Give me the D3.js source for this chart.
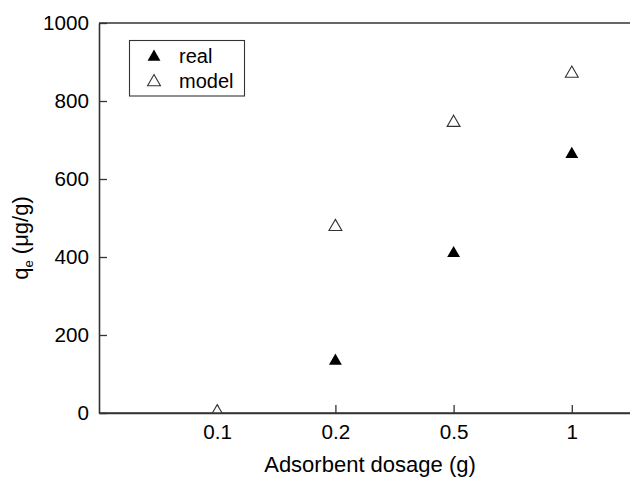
<!DOCTYPE html>
<html><head><meta charset="utf-8">
<script src="https://cdn.jsdelivr.net/npm/d3@7"></script>
<style>
body{margin:0;background:#fff;}
svg text{font-family:"Liberation Sans",Arial,sans-serif;fill:#000;}
.sx{transform-box:fill-box;transform-origin:center;transform:scaleX(1.06);}
</style>
</head><body>
<svg id="c" width="630" height="477"></svg>
<script>
const categories = ["0.1", "0.2", "0.5", "1"];
const realValues = [null, 136, 412, 666];
const modelValues = [5, 480, 747, 873];
const yTicks = [0, 200, 400, 600, 800, 1000];
const seriesNames = ["real", "model"];

const svg = d3.select("#c");
const m = {left: 99, top: 23, right: 690, bottom: 413};

const x = d3.scalePoint().domain(categories).range([m.left, m.right]).padding(1);
const y = d3.scaleLinear().domain([0, 1000]).range([m.bottom, m.top]);

const axisColor = "#333";

svg.append("clipPath").attr("id", "plotclip").append("rect")
  .attr("x", m.left).attr("y", m.top).attr("width", m.right - m.left).attr("height", m.bottom - m.top);

// x axis (inward ticks)
const gx = svg.append("g").attr("transform", `translate(0,${m.bottom})`)
  .call(d3.axisBottom(x).tickSize(-8).tickSizeOuter(0).tickPadding(12));
gx.select(".domain").attr("stroke", axisColor).attr("stroke-width", 1.6);
gx.selectAll(".tick line").attr("stroke", axisColor).attr("stroke-width", 1.3);
gx.selectAll(".tick text").attr("font-size", 19.5).attr("class", "sx").attr("dy", "0.71em");

// y axis
const gy = svg.append("g").attr("transform", `translate(${m.left},0)`)
  .call(d3.axisLeft(y).tickValues(yTicks).tickFormat(d3.format("d")).tickSize(-8).tickSizeOuter(0).tickPadding(10));
gy.select(".domain").attr("stroke", axisColor).attr("stroke-width", 1.6);
gy.selectAll(".tick line").attr("stroke", axisColor).attr("stroke-width", 1.3);
gy.selectAll(".tick text").attr("font-size", 19.5).attr("class", "sx")
  .attr("style", "transform-origin:right center");

// top frame line
svg.append("line").attr("x1", m.left).attr("x2", m.right).attr("y1", m.top).attr("y2", m.top)
  .attr("stroke", axisColor).attr("stroke-width", 1.6);

const tri = d3.symbol().type(d3.symbolTriangle).size(72);

const plot = svg.append("g").attr("clip-path", "url(#plotclip)");
// model (open)
plot.append("g").selectAll("path").data(categories.map((c, i) => [c, modelValues[i]]).filter(d => d[1] != null))
  .join("path").attr("d", tri)
  .attr("transform", d => `translate(${x(d[0])},${y(d[1]) + 1})`)
  .attr("fill", "#fff").attr("stroke", "#333").attr("stroke-width", 1.1);
// real (filled)
plot.append("g").selectAll("path").data(categories.map((c, i) => [c, realValues[i]]).filter(d => d[1] != null))
  .join("path").attr("d", tri)
  .attr("transform", d => `translate(${x(d[0])},${y(d[1]) + 1})`)
  .attr("fill", "#000");

// redraw x axis domain over low marker
svg.append("line").attr("x1", m.left).attr("x2", m.right).attr("y1", m.bottom).attr("y2", m.bottom)
  .attr("stroke", axisColor).attr("stroke-width", 1.6);

// legend
const lg = svg.append("g");
lg.append("rect").attr("x", 129.5).attr("y", 40.5).attr("width", 115).attr("height", 55.5)
  .attr("fill", "#fff").attr("stroke", "#333").attr("stroke-width", 1.1);
seriesNames.forEach((n, i) => {
  const yy = 56 + i * 25;
  lg.append("path").attr("d", tri).attr("transform", `translate(154,${yy + 1})`)
    .attr("fill", i === 0 ? "#000" : "#fff").attr("stroke", i === 0 ? "none" : "#333").attr("stroke-width", 1.1);
  lg.append("text").attr("x", 179).attr("y", yy).attr("dy", "0.35em").attr("font-size", 20).text(n);
});

// axis titles
svg.append("text").attr("x", 370).attr("y", 472).attr("text-anchor", "middle").attr("font-size", 22)
  .text("Adsorbent dosage (g)");

const yl = svg.append("text").attr("transform", "translate(28,238) rotate(-90)").attr("text-anchor", "middle")
  .attr("font-size", 22);
yl.append("tspan").text("q");
yl.append("tspan").attr("font-size", 13).attr("dy", 5).text("e");
yl.append("tspan").attr("dy", -5).text(" (\u03bcg/g)");
</script>
</body></html>
